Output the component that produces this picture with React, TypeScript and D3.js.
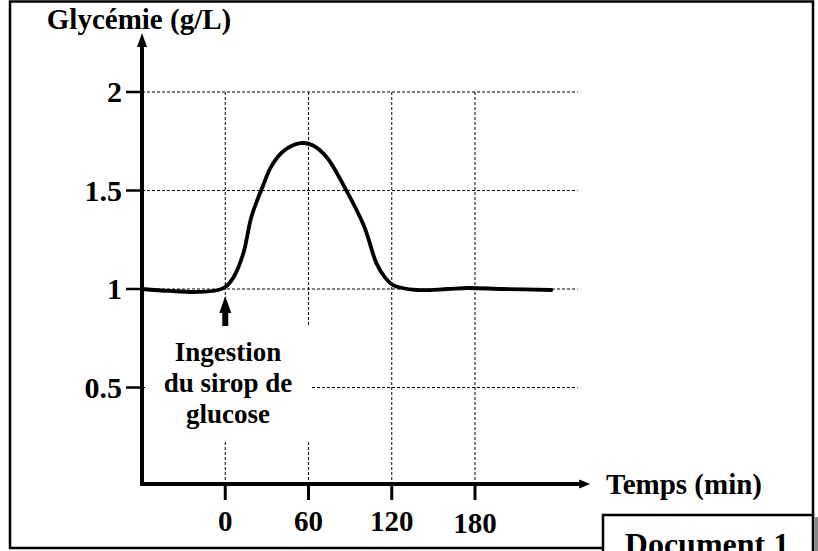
import { useMemo } from 'react';
import * as d3 from 'd3';

// Glycémie après ingestion de sirop de glucose
const timeMin = [-60, -40, -20, -5, 0, 6, 13, 19, 27, 33, 42, 54, 63, 73, 85, 100, 109, 115, 121, 138, 160, 175, 200, 235];
const glycemia = [1.0, 0.99, 0.985, 0.995, 1.01, 1.06, 1.18, 1.37, 1.52, 1.62, 1.7, 1.74, 1.73, 1.67, 1.53, 1.32, 1.13, 1.06, 1.02, 0.995, 1.0, 1.005, 1.0, 0.995];

const xTicks = [0, 60, 120, 180];
const yTicks = [0.5, 1, 1.5, 2];
const yTickLabels = ['0.5', '1', '1.5', '2'];

const X_DOMAIN: [number, number] = [-60, 180];
const GRID_END = 254; // min, where dotted grid stops
const X_AXIS_END = 263; // min, arrow tip
const Y_AXIS_END = 2.3; // g/L, arrow tip
const INJECTION_TIME = 0;

const FONT = '"Liberation Serif", "Times New Roman", serif';
const W = 818;
const H = 551;

export default function App() {
    const x = useMemo(() => d3.scaleLinear().domain(X_DOMAIN).range([142, 475]), []);
    const y = useMemo(() => d3.scaleLinear().domain([0, 2]).range([486, 92]), []);

    const points = timeMin.map((t, i) => ({ t, v: glycemia[i] }));
    const line = d3.line<{ t: number; v: number }>()
        .x(d => x(d.t))
        .y(d => y(d.v))
        .curve(d3.curveCatmullRom.alpha(0.5));

    const x0 = x(X_DOMAIN[0]);
    const yBase = 484;
    const xEnd = x(X_AXIS_END);
    const yTop = y(Y_AXIS_END);
    const gridX2 = x(GRID_END);
    const arrowX = x(INJECTION_TIME);
    const y1 = y(1);

    return (
        <div style={{ position: 'absolute', left: 0, top: 0 }}>
            <svg width={W} height={H} style={{ display: 'block', background: '#fff' }}
                fontFamily={FONT} fontWeight="bold">
                {/* frame */}
                <path d={`M603,548 L10,548 L10,1.5 L813,1.5 L813,515`} fill="none" stroke="#000" strokeWidth={2.5} />
                <rect x={814.5} y={517} width={4} height={40} fill="#888" />
                <rect x={603} y={515} width={210} height={50} fill="#fff" stroke="#000" strokeWidth={2.5} />
                <text x={707} y={555} textAnchor="middle" fontSize={32}>Document 1</text>

                {/* grid */}
                <g stroke="#000" strokeWidth={1} strokeDasharray="3,2" fill="none">
                    {yTicks.map(v => (
                        <line key={`h${v}`} x1={x0} x2={gridX2} y1={y(v)} y2={y(v)} />
                    ))}
                    {xTicks.map(t => (
                        <line key={`v${t}`} x1={x(t)} x2={x(t)} y1={y(2)} y2={yBase} />
                    ))}
                </g>

                {/* annotation */}
                <rect x={145} y={327} width={167} height={113} fill="#fff" />
                <path d={`M${arrowX},${y1 + 7} L${arrowX + 6},${y1 + 24} L${arrowX + 3},${y1 + 24} L${arrowX + 3},${y1 + 37} L${arrowX - 3},${y1 + 37} L${arrowX - 3},${y1 + 24} L${arrowX - 6},${y1 + 24} Z`}
                    fill="#000" />
                <text x={228} textAnchor="middle" fontSize={27}>
                    <tspan x={228} y={361}>Ingestion</tspan>
                    <tspan x={228} y={392}>du sirop de</tspan>
                    <tspan x={228} y={423}>glucose</tspan>
                </text>

                {/* curve */}
                <path d={line(points) || ''} fill="none" stroke="#000" strokeWidth={3.8}
                    strokeLinejoin="round" strokeLinecap="round" />

                {/* axes */}
                <line x1={x0} x2={x0} y1={yBase + 1.5} y2={yTop + 10} stroke="#000" strokeWidth={4} />
                <path d={`M${x0},${yTop} L${x0 + 5},${yTop + 14} L${x0 - 5},${yTop + 14} Z`} fill="#000" />
                <line x1={x0 - 1.5} x2={xEnd - 8} y1={yBase} y2={yBase} stroke="#000" strokeWidth={4} />
                <path d={`M${xEnd},${yBase} L${xEnd - 11},${yBase - 4.5} L${xEnd - 11},${yBase + 4.5} Z`} fill="#000" />

                {yTicks.map((v, i) => (
                    <g key={`yt${v}`}>
                        <line x1={126} x2={x0} y1={y(v)} y2={y(v)} stroke="#000" strokeWidth={2.5} />
                        <text x={122} y={y(v) + 10} textAnchor="end" fontSize={30}>{yTickLabels[i]}</text>
                    </g>
                ))}
                {xTicks.map(t => (
                    <g key={`xt${t}`}>
                        <line x1={x(t)} x2={x(t)} y1={yBase + 2} y2={yBase + 16} stroke="#000" strokeWidth={3} />
                        <text x={x(t)} y={t === 180 ? 533 : 531} textAnchor="middle" fontSize={29}>{t}</text>
                    </g>
                ))}

                <text x={x0 - 3} y={29} textAnchor="middle" fontSize={29}>Glycémie (g/L)</text>
                <text x={606} y={494} fontSize={29}>Temps (min)</text>
            </svg>
        </div>
    );
}
